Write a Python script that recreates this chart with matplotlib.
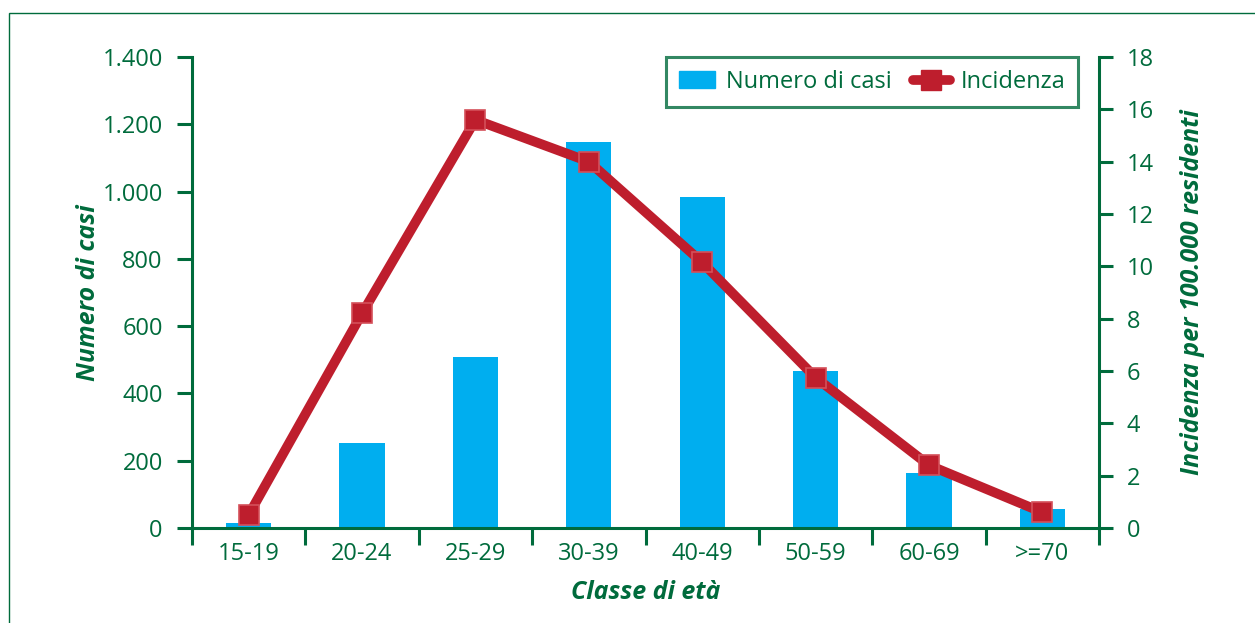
import matplotlib
matplotlib.use("Agg")
import matplotlib.pyplot as plt
from matplotlib.patches import Rectangle
from matplotlib.lines import Line2D
import numpy as np

categories = ["15-19", "20-24", "25-29", "30-39", "40-49", "50-59", "60-69", ">=70"]
casi = [15, 253, 508, 1147, 984, 467, 163, 56]
incidenza = [0.5, 8.2, 15.6, 14.0, 10.15, 5.75, 2.4, 0.6]
left_ticks = [0, 200, 400, 600, 800, 1000, 1200, 1400]
left_ticklabels = ["0", "200", "400", "600", "800", "1.000", "1.200", "1.400"]
right_ticks = [0, 2, 4, 6, 8, 10, 12, 14, 16, 18]

GREEN = "#006B3C"
BLUE = "#00AEEF"
RED = "#BE1E2D"

plt.rcParams['font.family'] = ['Open Sans', 'DejaVu Sans']

fig = plt.figure(figsize=(12.55, 6.23), dpi=100)
ax = fig.add_axes([192/1255, 1-528/623, (1099-192)/1255, (528-57)/623])
ax2 = ax.twinx()

x = np.arange(len(categories))
ax.bar(x, casi, width=0.4, color=BLUE, zorder=2, label="Numero di casi")
ax.set_xlim(-0.5, 7.5)
ax.set_ylim(0, 1400)
ax2.set_ylim(0, 18)

ax2.plot(x, incidenza, color=RED, lw=7, marker="s", ms=14,
         markerfacecolor=RED, markeredgecolor="#D4505A", markeredgewidth=1.2,
         solid_joinstyle="miter", zorder=3, label="Incidenza")

for a in (ax, ax2):
    a.spines['top'].set_visible(False)
    for s in ('left', 'right', 'bottom'):
        a.spines[s].set_color(GREEN)
        a.spines[s].set_linewidth(2.2)
    a.patch.set_visible(False)

ax.spines['right'].set_visible(False)
ax2.spines['left'].set_visible(False)
ax2.spines['bottom'].set_visible(False)

ax.set_yticks(left_ticks)
ax.set_yticklabels(left_ticklabels)
ax.tick_params(axis='y', colors=GREEN, labelsize=17, length=11, width=2.2, pad=10, direction='out')
ax.set_xticks(x)
ax.set_xticklabels(categories)
ax.tick_params(axis='x', which='major', length=0, colors=GREEN, labelsize=17, pad=10)
ax.set_xticks(np.arange(-0.5, 8.0, 1.0), minor=True)
ax.tick_params(axis='x', which='minor', length=12, width=2.2, color=GREEN, direction='out')

ax2.set_yticks(right_ticks)
ax2.tick_params(axis='y', colors=GREEN, labelsize=17, length=10, width=2.2, pad=10, direction='out')

ax.set_ylabel("Numero di casi", color=GREEN, fontsize=18, fontweight='bold', fontstyle='italic', labelpad=1)
ax2.set_ylabel("Incidenza per 100.000 residenti", color=GREEN, fontsize=18, fontweight='bold',
               fontstyle='italic', labelpad=19)
ax.set_xlabel("Classe di età", color=GREEN, fontsize=18, fontweight='bold', fontstyle='italic', labelpad=10)

handles = [Rectangle((0, 0), 1, 1, color=BLUE),
           Line2D([0], [0], color=RED, lw=7, marker="s", ms=14, solid_capstyle='round')]
leg = ax2.legend(handles, ["Numero di casi", "Incidenza"], loc='upper right',
                 bbox_to_anchor=(1 - 21/907, 1.0), borderaxespad=0, ncol=2, frameon=True,
                 fancybox=False, fontsize=17, handlelength=1.55, columnspacing=0.9,
                 handletextpad=0.45, borderpad=0.55)
leg.get_frame().set_edgecolor(GREEN)
leg.get_frame().set_linewidth(2.2)
for t in leg.get_texts():
    t.set_color(GREEN)

fig.patches.append(Rectangle((9/1255, -0.1), 1.2, (623-13)/623 + 0.1, transform=fig.transFigure,
                             fill=False, edgecolor=GREEN, lw=1.0))

fig.savefig("out.png", dpi=100)
